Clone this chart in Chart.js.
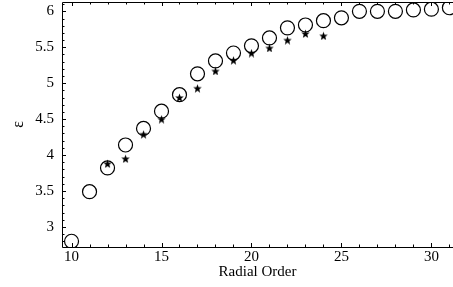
<!DOCTYPE html>
<html>
<head>
<meta charset="utf-8">
<script src="https://cdn.jsdelivr.net/npm/chart.js@4/dist/chart.umd.min.js"></script>
<style>
  html, body { margin: 0; padding: 0; background: #fff; }
  #wrap { width: 453px; height: 287px; }
</style>
</head>
<body>
<div id="wrap"><canvas id="chart"></canvas></div>
<script>
// Radial order and epsilon values
const orderCircles = [10, 11, 12, 13, 14, 15, 16, 17, 18, 19, 20, 21, 22, 23, 24, 25, 26, 27, 28, 29, 30, 31];
const epsCircles = [2.80, 3.49, 3.82, 4.14, 4.37, 4.61, 4.84, 5.13, 5.31, 5.42, 5.52, 5.63, 5.77, 5.81, 5.87, 5.91, 6.00, 6.00, 6.00, 6.02, 6.03, 6.05];
const orderStars = [12, 13, 14, 15, 16, 17, 18, 19, 20, 21, 22, 23, 24];
const epsStars = [3.88, 3.95, 4.29, 4.50, 4.80, 4.93, 5.17, 5.32, 5.42, 5.49, 5.60, 5.69, 5.66];
const xTicks = [10, 15, 20, 25, 30];
const yTicks = [3, 3.5, 4, 4.5, 5, 5.5, 6];

const FONT = "'Liberation Serif', 'Times New Roman', serif";

// Filled five-point star used as point style
function makeStar(size) {
    const c = document.createElement('canvas');
    c.width = size; c.height = size;
    const g = c.getContext('2d');
    const r = size / 2, ri = r * 0.42;
    g.beginPath();
    for (let i = 0; i < 10; i++) {
        const rad = i % 2 === 0 ? r : ri;
        const a = -Math.PI / 2 + i * Math.PI / 5;
        const px = r + rad * Math.cos(a), py = r + rad * Math.sin(a) + 0.5;
        if (i === 0) g.moveTo(px, py); else g.lineTo(px, py);
    }
    g.closePath();
    g.fillStyle = '#000';
    g.fill();
    return c;
}

function toPoints(xs, ys) {
    return xs.map((x, i) => ({ x: x, y: ys[i] }));
}

// Frame and inward ticks, Mathematica style
const frameTicks = {
    id: 'frameTicks',
    afterDraw(chart) {
        const ctx = chart.ctx;
        const a = chart.chartArea;
        const xs = chart.scales.x, ys = chart.scales.y;
        ctx.save();
        ctx.strokeStyle = '#000';
        ctx.lineWidth = 1;
        ctx.beginPath();
        ctx.moveTo(a.left + 0.5, a.top + 0.5);
        ctx.lineTo(a.left + 0.5, a.bottom + 0.5);
        ctx.lineTo(a.right, a.bottom + 0.5);
        ctx.moveTo(a.left + 0.5, a.top + 0.5);
        ctx.lineTo(a.right, a.top + 0.5);
        ctx.stroke();
        ctx.beginPath();
        for (let v = 10; v <= 31; v++) {
            const px = Math.round(xs.getPixelForValue(v)) + 0.5;
            const len = v % 5 === 0 ? 4 : 2.5;
            ctx.moveTo(px, a.bottom); ctx.lineTo(px, a.bottom - len);
            ctx.moveTo(px, a.top); ctx.lineTo(px, a.top + len);
        }
        for (let k = 28; k <= 61; k++) {
            const v = k / 10;
            const py = Math.round(ys.getPixelForValue(v)) + 0.5;
            const len = k % 5 === 0 ? 4 : 2.5;
            ctx.moveTo(a.left, py); ctx.lineTo(a.left + len, py);
        }
        ctx.stroke();
        ctx.restore();
    }
};

new Chart(document.getElementById('chart'), {
    type: 'scatter',
    data: {
        datasets: [
            {
                label: 'circles',
                data: toPoints(orderCircles, epsCircles),
                pointStyle: 'circle',
                pointRadius: 7,
                pointBorderWidth: 1.2,
                pointBorderColor: '#000',
                pointBackgroundColor: 'rgba(0,0,0,0)'
            },
            {
                label: 'stars',
                data: toPoints(orderStars, epsStars),
                pointStyle: makeStar(9),
                pointRadius: 4.5
            }
        ]
    },
    options: {
        responsive: true,
        maintainAspectRatio: false,
        animation: false,
        layout: { autoPadding: false, padding: { top: 2, right: 0, left: 0, bottom: 0 } },
        plugins: {
            legend: { display: false },
            tooltip: { enabled: false }
        },
        scales: {
            x: {
                type: 'linear',
                min: 9.47,
                max: 31.2,
                grid: { display: false, drawTicks: false },
                border: { display: false },
                afterBuildTicks(scale) { scale.ticks = xTicks.map(v => ({ value: v })); },
                afterFit(scale) {
                    scale.height = 40;
                    scale.paddingLeft = 0;
                    scale.paddingRight = 0;
                },
                ticks: {
                    color: '#000',
                    padding: 1,
                    maxRotation: 0,
                    callback: v => String(v),
                    font: { family: FONT, size: 15 }
                },
                title: {
                    display: true,
                    text: 'Radial Order',
                    color: '#000',
                    padding: { top: 6, bottom: 6 },
                    font: { family: FONT, size: 15 }
                }
            },
            y: {
                min: 2.72,
                max: 6.13,
                grid: { display: false, drawTicks: false },
                border: { display: false },
                afterBuildTicks(scale) { scale.ticks = yTicks.map(v => ({ value: v })); },
                afterFit(scale) {
                    scale.width = 62;
                    scale.paddingTop = 0;
                    scale.paddingBottom = 0;
                },
                ticks: {
                    color: '#000',
                    padding: 8,
                    callback: v => String(v),
                    font: { family: FONT, size: 15 }
                },
                title: {
                    display: true,
                    text: 'ε',
                    color: '#000',
                    padding: { top: 9, bottom: 9 },
                    font: { family: FONT, size: 16 }
                }
            }
        }
    },
    plugins: [frameTicks]
});
</script>
</body>
</html>
